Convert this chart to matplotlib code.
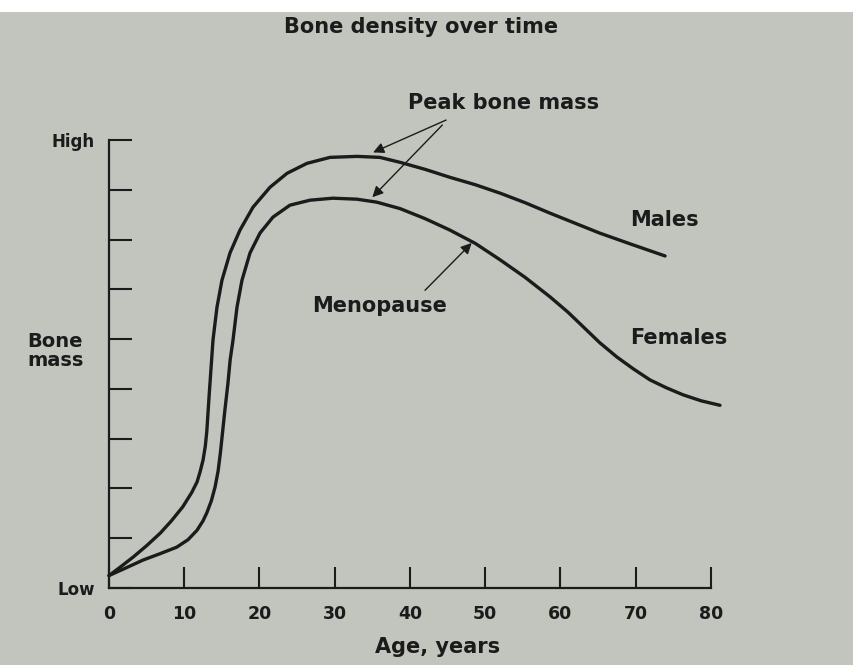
import matplotlib
matplotlib.use("Agg")
import matplotlib.pyplot as plt
from matplotlib.patches import Rectangle

# values (age in years, bone mass on a 0=Low .. 9=High scale)
age_m = [0, 1.5, 3.2, 5.0, 6.8, 8.3, 9.8, 11.0, 11.7, 12.1, 12.5, 12.8, 13.0, 13.3, 13.6,
         13.82, 14.35, 15.01, 16.08, 17.41, 19.14, 21.4, 23.66, 26.31, 29.37, 32.96, 36.0,
         38.7, 42.0, 45.3, 48.7, 52.0, 55.3, 58.6, 61.9, 65.2, 69.5, 73.9]
bone_m = [0.25, 0.42, 0.62, 0.85, 1.10, 1.35, 1.63, 1.92, 2.13, 2.33, 2.57, 2.85, 3.15, 3.85, 4.50,
          4.98, 5.64, 6.18, 6.73, 7.19, 7.65, 8.05, 8.33, 8.53, 8.65, 8.67, 8.65,
          8.55, 8.41, 8.25, 8.10, 7.93, 7.74, 7.53, 7.33, 7.13, 6.90, 6.67]

age_f = [0, 2.2, 4.5, 6.8, 9.0, 10.5, 11.7, 12.5, 13.0, 13.6, 14.1, 14.5, 14.8, 15.4, 15.8,
         16.1, 16.48, 17.01, 17.67, 18.74, 20.07, 21.79, 24.05, 26.71, 29.77, 32.96, 35.6,
         38.7, 42.0, 45.3, 48.7, 52.0, 55.3, 58.6, 61.0, 63.0, 65.2, 67.5, 69.7, 71.9, 74.1,
         76.3, 78.7, 81.2]
bone_f = [0.25, 0.40, 0.56, 0.69, 0.82, 0.97, 1.16, 1.35, 1.51, 1.75, 2.03, 2.35, 2.71, 3.57, 4.10,
          4.58, 4.98, 5.64, 6.18, 6.73, 7.13, 7.45, 7.69, 7.79, 7.83, 7.81, 7.75,
          7.62, 7.42, 7.19, 6.92, 6.59, 6.24, 5.85, 5.54, 5.25, 4.93, 4.64, 4.40, 4.18, 4.02,
          3.88, 3.76, 3.67]

x_ticks = [0, 10, 20, 30, 40, 50, 60, 70, 80]
y_ticks = list(range(10))
y_labels = ["Low"] + [""] * 8 + ["High"]

ink = "#1b1b1b"
paper = "#c2c4be"
bold = dict(fontweight="bold", color=ink)

fig = plt.figure(figsize=(8.54, 6.65), dpi=100)
fig.patch.set_facecolor(paper)
# white strip along the top edge of the photo
fig.patches.append(Rectangle((0, 1 - 12 / 665), 1, 12 / 665, transform=fig.transFigure,
                             facecolor="white", edgecolor="none"))

ax = fig.add_axes([109 / 854, 77 / 665, 617 / 854, 458 / 665])
ax.set_facecolor("none")
ax.set_xlim(0, 82)
ax.set_ylim(0, 9.2)

line_kw = dict(color=ink, lw=2.4, solid_capstyle="round", solid_joinstyle="round", clip_on=False)
ax.plot(age_m, bone_m, **line_kw)
ax.plot(age_f, bone_f, **line_kw)

for s in ["top", "right"]:
    ax.spines[s].set_visible(False)
for s in ["left", "bottom"]:
    ax.spines[s].set_linewidth(1.6)
    ax.spines[s].set_color(ink)
ax.spines["bottom"].set_bounds(0, 80)
ax.spines["left"].set_bounds(0, 9)

ax.set_xticks(x_ticks)
ax.set_xticklabels([str(t) for t in x_ticks], fontsize=12.5, **bold)
ax.set_yticks(y_ticks)
ax.set_yticklabels(y_labels, fontsize=12, **bold)
ax.tick_params(axis="x", direction="in", length=15, width=1.5, color=ink, pad=12)
ax.tick_params(axis="y", direction="in", length=16.5, width=1.5, color=ink, pad=10)

ax.text(-10.8, 4.76, "Bone\nmass", ha="left", va="center", fontsize=14, linespacing=1.0,
        clip_on=False, **bold)

# annotations
arrow = dict(arrowstyle="-|>", lw=1.0, color=ink, mutation_scale=16, shrinkA=0, shrinkB=0)
ax.annotate("", xy=(35.1, 8.75), xytext=(44.8, 9.40), arrowprops=arrow, annotation_clip=False)
ax.annotate("", xy=(35.0, 7.85), xytext=(44.3, 9.30), arrowprops=arrow, annotation_clip=False)
ax.text(52.4, 9.74, "Peak bone mass", ha="center", va="center", fontsize=15, clip_on=False, **bold)

ax.annotate("", xy=(48.2, 6.93), xytext=(42.0, 5.98), arrowprops=arrow)
ax.text(36.0, 5.66, "Menopause", ha="center", va="center", fontsize=15, **bold)

ax.text(69.2, 7.39, "Males", ha="left", va="center", fontsize=15, **bold)
ax.text(69.2, 5.02, "Females", ha="left", va="center", fontsize=15, **bold)

fig.text(421 / 854, 1 - 27 / 665, "Bone density over time", ha="center", va="center",
         fontsize=15, **bold)
fig.text(438 / 854, 1 - 647 / 665, "Age, years", ha="center", va="center", fontsize=15, **bold)

fig.savefig("out.png", dpi=100, facecolor=fig.get_facecolor())
